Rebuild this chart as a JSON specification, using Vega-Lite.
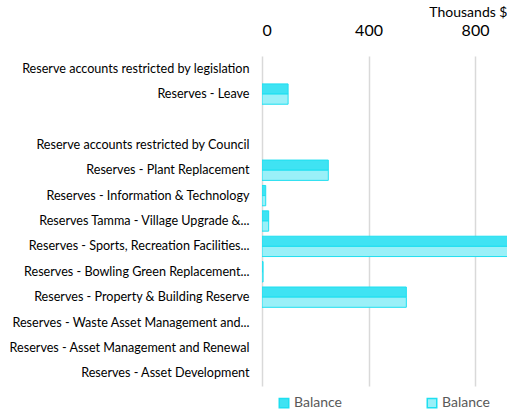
{
  "$schema": "https://vega.github.io/schema/vega-lite/v6.json",
  "width": 245,
  "height": 330,
  "autosize": "none",
  "padding": {"left": 262, "top": 56, "right": 0, "bottom": 27},
  "config": {
    "view": {"stroke": null},
    "font": "Lato"
  },
  "data": {
    "values": [
      {"category": "Reserve accounts restricted by legislation", "series": "A", "value": null},
      {"category": "Reserve accounts restricted by legislation", "series": "B", "value": null},
      {"category": "Reserves - Leave", "series": "A", "value": 98},
      {"category": "Reserves - Leave", "series": "B", "value": 98},
      {"category": " ", "series": "A", "value": null},
      {"category": " ", "series": "B", "value": null},
      {"category": "Reserve accounts restricted by Council", "series": "A", "value": null},
      {"category": "Reserve accounts restricted by Council", "series": "B", "value": null},
      {"category": "Reserves - Plant Replacement", "series": "A", "value": 249},
      {"category": "Reserves - Plant Replacement", "series": "B", "value": 249},
      {"category": "Reserves - Information & Technology", "series": "A", "value": 14},
      {"category": "Reserves - Information & Technology", "series": "B", "value": 14},
      {"category": "Reserves Tamma - Village Upgrade &...", "series": "A", "value": 25},
      {"category": "Reserves Tamma - Village Upgrade &...", "series": "B", "value": 25},
      {"category": "Reserves - Sports, Recreation Facilities...", "series": "A", "value": 1050},
      {"category": "Reserves - Sports, Recreation Facilities...", "series": "B", "value": 1050},
      {"category": "Reserves - Bowling Green Replacement...", "series": "A", "value": 4},
      {"category": "Reserves - Bowling Green Replacement...", "series": "B", "value": 4},
      {"category": "Reserves - Property & Building Reserve", "series": "A", "value": 542},
      {"category": "Reserves - Property & Building Reserve", "series": "B", "value": 542},
      {"category": "Reserves - Waste Asset Management and...", "series": "A", "value": 0},
      {"category": "Reserves - Waste Asset Management and...", "series": "B", "value": 0},
      {"category": "Reserves - Asset Management and Renewal", "series": "A", "value": 0},
      {"category": "Reserves - Asset Management and Renewal", "series": "B", "value": 0},
      {"category": "Reserves - Asset Development", "series": "A", "value": 0},
      {"category": "Reserves - Asset Development", "series": "B", "value": 0}
    ]
  },
  "mark": {"type": "bar", "clip": true, "stroke": "#1fdff0", "strokeWidth": 1},
  "encoding": {
    "y": {
      "field": "category",
      "type": "nominal",
      "sort": null,
      "scale": {
        "domain": [
          "Reserve accounts restricted by legislation",
          "Reserves - Leave",
          " ",
          "Reserve accounts restricted by Council",
          "Reserves - Plant Replacement",
          "Reserves - Information & Technology",
          "Reserves Tamma - Village Upgrade &...",
          "Reserves - Sports, Recreation Facilities...",
          "Reserves - Bowling Green Replacement...",
          "Reserves - Property & Building Reserve",
          "Reserves - Waste Asset Management and...",
          "Reserves - Asset Management and Renewal",
          "Reserves - Asset Development"
        ],
        "paddingInner": 0.2,
        "paddingOuter": 0.1
      },
      "axis": {
        "title": null,
        "domain": false,
        "ticks": false,
        "grid": false,
        "labelFontSize": 12.6,
        "labelColor": "#000000",
        "labelPadding": 13,
        "labelLimit": 300
      }
    },
    "yOffset": {"field": "series", "type": "nominal", "scale": {"domain": ["A", "B"]}},
    "x": {
      "field": "value",
      "type": "quantitative",
      "scale": {"domain": [0, 920], "nice": false, "zero": true},
      "axis": {
        "orient": "top",
        "values": [0, 400, 800],
        "title": "Thousands $",
        "titleAnchor": "end",
        "titleFontSize": 14,
        "titleFontWeight": "normal",
        "titleColor": "#000000",
        "titlePadding": 3,
        "domain": false,
        "ticks": false,
        "labelFontSize": 16,
        "labelColor": "#000000",
        "labelPadding": 18,
        "gridColor": "#d9d9d9",
        "gridWidth": 1.5
      }
    },
    "strokeOpacity": {
      "condition": {"test": "datum.value > 0", "value": 1},
      "value": 0
    },
    "fill": {
      "field": "series",
      "type": "nominal",
      "scale": {"domain": ["A", "B"], "range": ["#3fe3f3", "#9af0f8"]},
      "legend": {
        "title": null,
        "orient": "none",
        "direction": "horizontal",
        "legendX": 15,
        "legendY": 340,
        "padding": 0,
        "symbolType": "square",
        "symbolSize": 90,
        "symbolStrokeWidth": 1.5,
        "labelExpr": "'Balance'",
        "labelFontSize": 14,
        "labelColor": "#595959",
        "labelOffset": 3,
        "columnPadding": 82,
        "encode": {
          "symbols": {
            "fill": {
              "condition": {"test": "datum.value === 'B'", "value": "#ffffff"},
              "value": "#3fe3f3"
            },
            "fillOpacity": {
              "condition": {"test": "datum.value === 'B'", "value": 0},
              "value": 1
            },
            "stroke": {"value": "#1fdff0"},
            "strokeOpacity": {"value": 1},
            "strokeWidth": {"value": 1.5}
          }
        }
      }
    }
  }
}
